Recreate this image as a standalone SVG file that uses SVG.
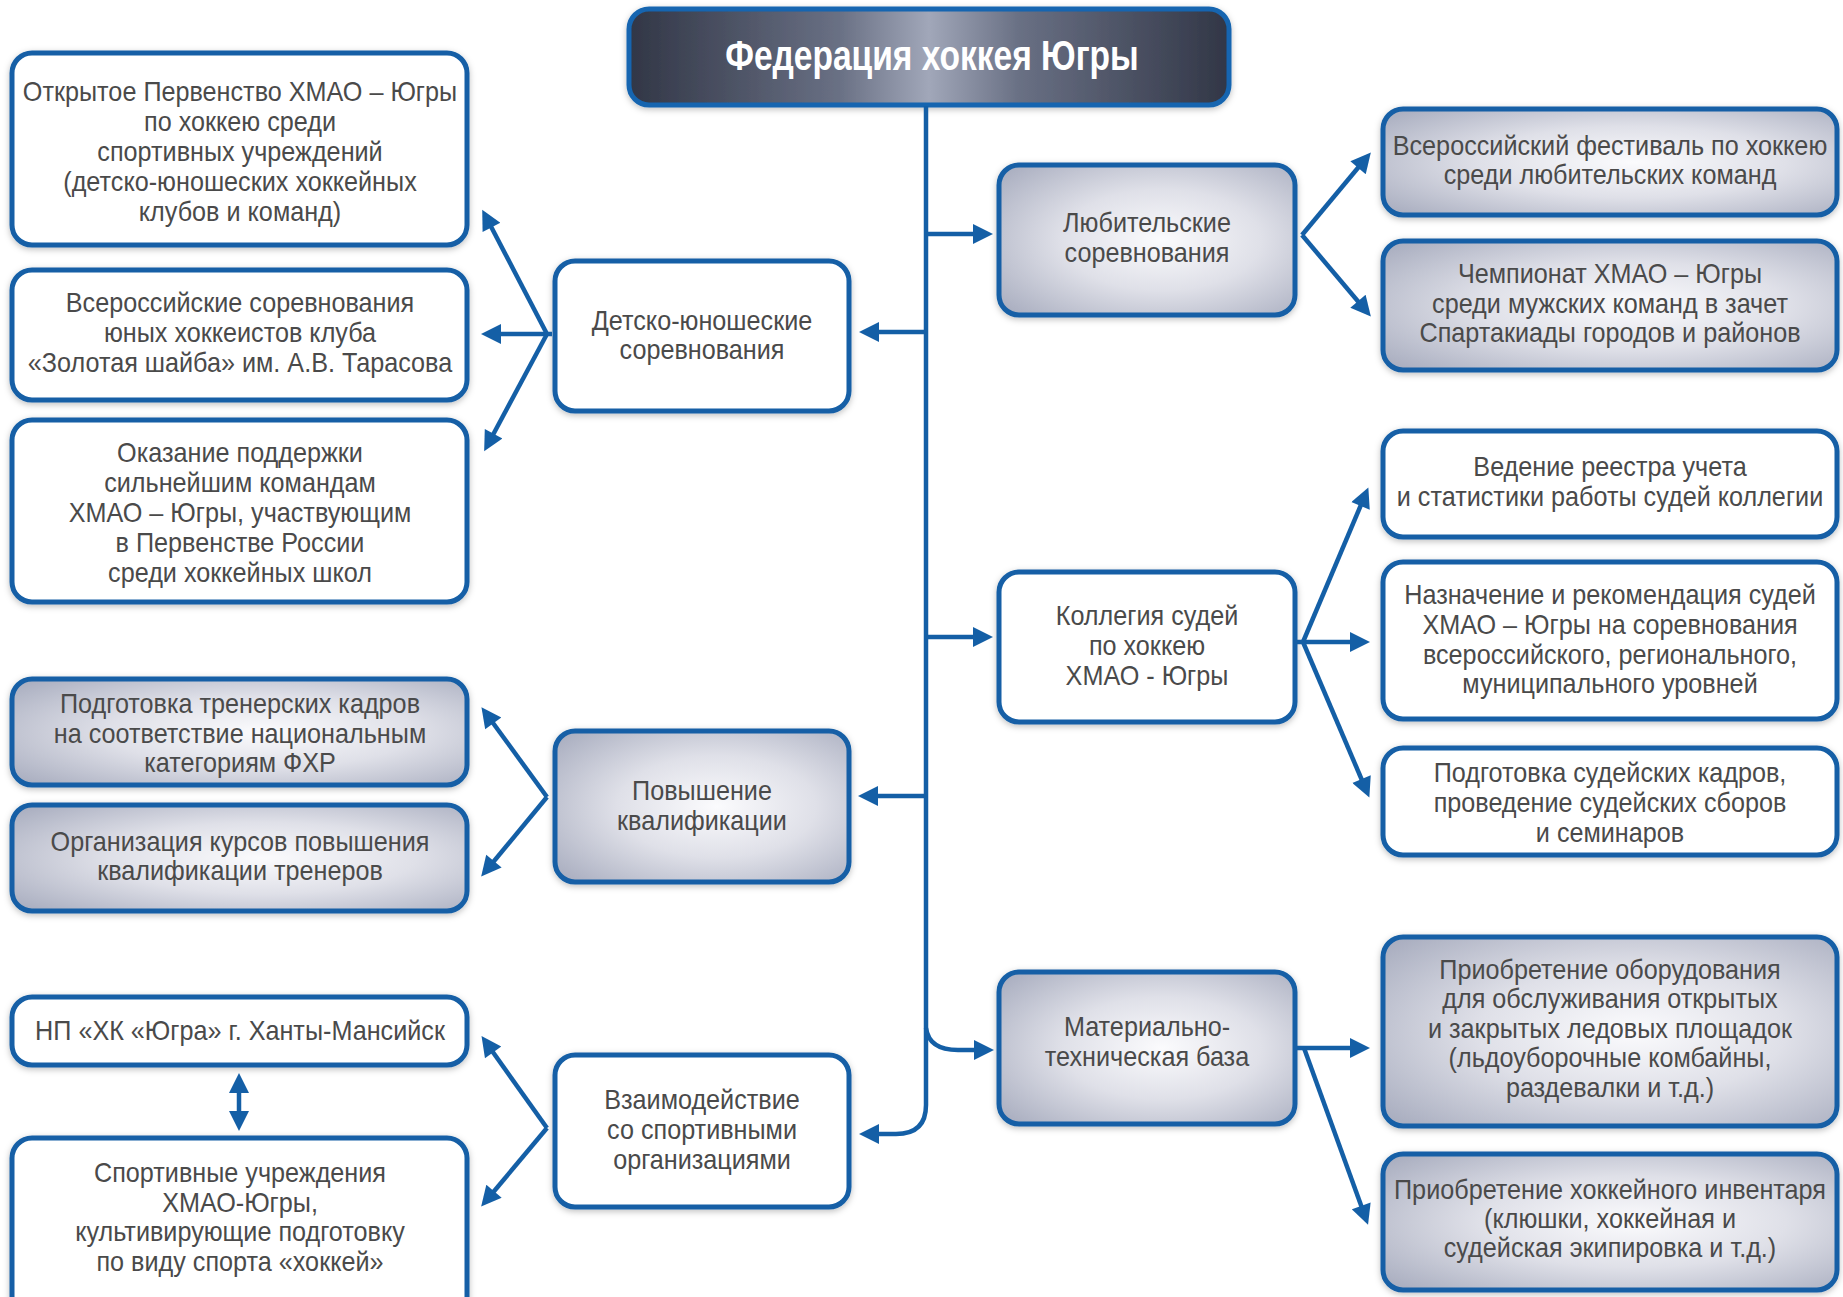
<svg xmlns="http://www.w3.org/2000/svg" width="1843" height="1297" viewBox="0 0 1843 1297">
<style>
.box{stroke:#145fa6;stroke-width:5;filter:url(#sh)}
.w{fill:#ffffff}
.g{fill:url(#gg)}
.t{font-family:"Liberation Sans",Arial,sans-serif;font-size:28px;fill:#4a4a4a;text-anchor:middle}
.ttl{font-family:"Liberation Sans",Arial,sans-serif;font-size:43px;font-weight:bold;fill:#ffffff;text-anchor:middle}
.c{fill:none;stroke:#145fa6;stroke-width:4.5;marker-end:url(#ah)}
</style>
<defs>
<filter id="sh" x="-10%" y="-10%" width="120%" height="130%">
<feDropShadow dx="0" dy="2" stdDeviation="3" flood-color="#000" flood-opacity="0.25"/>
</filter>
<radialGradient id="gg" cx="0.55" cy="0.5" r="0.75">
<stop offset="0" stop-color="#fbfbfd"/>
<stop offset="0.45" stop-color="#dfe0e8"/>
<stop offset="1" stop-color="#a3a8bb"/>
</radialGradient>
<linearGradient id="tg" x1="0" y1="0" x2="1" y2="0">
<stop offset="0" stop-color="#313646"/>
<stop offset="0.35" stop-color="#697084"/>
<stop offset="0.5" stop-color="#a1a7b9"/>
<stop offset="0.65" stop-color="#697084"/>
<stop offset="1" stop-color="#313646"/>
</linearGradient>
<marker id="ah" viewBox="0 0 10 10" refX="7" refY="5" markerUnits="userSpaceOnUse" markerWidth="23" markerHeight="20" orient="auto-start-reverse">
<path d="M0,0 L10,5 L0,10 Z" fill="#145fa6"/>
</marker>
</defs>
<rect x="0" y="0" width="1843" height="1297" fill="#ffffff"/>

<g id="title">
<rect x="629" y="9" width="600" height="96" rx="20" fill="url(#tg)" stroke="#1565b0" stroke-width="5" filter="url(#sh)"/>
<text class="ttl" transform="translate(932 0) scale(0.78 1)" x="0" y="70">Федерация хоккея Югры</text>
</g>

<g id="n1"><rect class="box w" x="12" y="53" width="455" height="192" rx="20"/>
<text class="t" transform="translate(240 0) scale(0.9 1)"><tspan x="0" y="101">Открытое Первенство ХМАО – Югры</tspan><tspan x="0" y="131">по хоккею среди</tspan><tspan x="0" y="161">спортивных учреждений</tspan><tspan x="0" y="191">(детско-юношеских хоккейных</tspan><tspan x="0" y="221">клубов и команд)</tspan></text></g>

<g id="n2"><rect class="box w" x="12" y="270" width="455" height="130" rx="20"/>
<text class="t" transform="translate(240 0) scale(0.9 1)"><tspan x="0" y="312">Всероссийские соревнования</tspan><tspan x="0" y="342">юных хоккеистов клуба</tspan><tspan x="0" y="372">«Золотая шайба» им. А.В. Тарасова</tspan></text></g>

<g id="n3"><rect class="box w" x="12" y="420" width="455" height="182" rx="20"/>
<text class="t" transform="translate(240 0) scale(0.9 1)"><tspan x="0" y="462">Оказание поддержки</tspan><tspan x="0" y="492">сильнейшим командам</tspan><tspan x="0" y="522">ХМАО – Югры, участвующим</tspan><tspan x="0" y="552">в Первенстве России</tspan><tspan x="0" y="582">среди хоккейных школ</tspan></text></g>

<g id="n4"><rect class="box g" x="12" y="679" width="455" height="106" rx="20"/>
<text class="t" transform="translate(240 0) scale(0.9 1)"><tspan x="0" y="713">Подготовка тренерских кадров</tspan><tspan x="0" y="743">на соответствие национальным</tspan><tspan x="0" y="772">категориям ФХР</tspan></text></g>

<g id="n5"><rect class="box g" x="12" y="805" width="455" height="106" rx="20"/>
<text class="t" transform="translate(240 0) scale(0.9 1)"><tspan x="0" y="851">Организация курсов повышения</tspan><tspan x="0" y="880">квалификации тренеров</tspan></text></g>

<g id="n6"><rect class="box w" x="12" y="997" width="455" height="68" rx="20"/>
<text class="t" transform="translate(240 0) scale(0.9 1)"><tspan x="0" y="1040">НП «ХК «Югра» г. Ханты-Мансийск</tspan></text></g>

<g id="n7"><rect class="box w" x="12" y="1138" width="455" height="180" rx="20"/>
<text class="t" transform="translate(240 0) scale(0.9 1)"><tspan x="0" y="1182">Спортивные учреждения</tspan><tspan x="0" y="1212">ХМАО-Югры,</tspan><tspan x="0" y="1241">культивирующие подготовку</tspan><tspan x="0" y="1271">по виду спорта «хоккей»</tspan></text></g>

<g id="n8"><rect class="box w" x="555" y="261" width="294" height="150" rx="20"/>
<text class="t" transform="translate(702 0) scale(0.9 1)"><tspan x="0" y="330">Детско-юношеские</tspan><tspan x="0" y="359">соревнования</tspan></text></g>

<g id="n9"><rect class="box g" x="555" y="731" width="294" height="151" rx="20"/>
<text class="t" transform="translate(702 0) scale(0.9 1)"><tspan x="0" y="800">Повышение</tspan><tspan x="0" y="830">квалификации</tspan></text></g>

<g id="n10"><rect class="box w" x="555" y="1055" width="294" height="152" rx="20"/>
<text class="t" transform="translate(702 0) scale(0.9 1)"><tspan x="0" y="1109">Взаимодействие</tspan><tspan x="0" y="1139">со спортивными</tspan><tspan x="0" y="1169">организациями</tspan></text></g>

<g id="n11"><rect class="box g" x="999" y="165" width="296" height="150" rx="20"/>
<text class="t" transform="translate(1147 0) scale(0.9 1)"><tspan x="0" y="232">Любительские</tspan><tspan x="0" y="262">соревнования</tspan></text></g>

<g id="n19"><rect class="box w" x="999" y="572" width="296" height="150" rx="20"/>
<text class="t" transform="translate(1147 0) scale(0.9 1)"><tspan x="0" y="625">Коллегия судей</tspan><tspan x="0" y="655">по хоккею</tspan><tspan x="0" y="685">ХМАО - Югры</tspan></text></g>

<g id="n20"><rect class="box g" x="999" y="972" width="296" height="152" rx="20"/>
<text class="t" transform="translate(1147 0) scale(0.9 1)"><tspan x="0" y="1036">Материально-</tspan><tspan x="0" y="1066">техническая база</tspan></text></g>

<g id="n12"><rect class="box g" x="1383" y="109" width="454" height="106" rx="20"/>
<text class="t" transform="translate(1610 0) scale(0.9 1)"><tspan x="0" y="155">Всероссийский фестиваль по хоккею</tspan><tspan x="0" y="184">среди любительских команд</tspan></text></g>

<g id="n13"><rect class="box g" x="1383" y="241" width="454" height="129" rx="20"/>
<text class="t" transform="translate(1610 0) scale(0.9 1)"><tspan x="0" y="283">Чемпионат ХМАО – Югры</tspan><tspan x="0" y="313">среди мужских команд в зачет</tspan><tspan x="0" y="342">Спартакиады городов и районов</tspan></text></g>

<g id="n14"><rect class="box w" x="1383" y="431" width="454" height="106" rx="20"/>
<text class="t" transform="translate(1610 0) scale(0.9 1)"><tspan x="0" y="476">Ведение реестра учета</tspan><tspan x="0" y="506">и статистики работы судей коллегии</tspan></text></g>

<g id="n15"><rect class="box w" x="1383" y="562" width="454" height="157" rx="20"/>
<text class="t" transform="translate(1610 0) scale(0.9 1)"><tspan x="0" y="604">Назначение и рекомендация судей</tspan><tspan x="0" y="634">ХМАО – Югры на соревнования</tspan><tspan x="0" y="664">всероссийского, регионального,</tspan><tspan x="0" y="693">муниципального уровней</tspan></text></g>

<g id="n16"><rect class="box w" x="1383" y="748" width="454" height="107" rx="20"/>
<text class="t" transform="translate(1610 0) scale(0.9 1)"><tspan x="0" y="782">Подготовка судейских кадров,</tspan><tspan x="0" y="812">проведение судейских сборов</tspan><tspan x="0" y="842">и семинаров</tspan></text></g>

<g id="n17"><rect class="box g" x="1383" y="937" width="454" height="189" rx="20"/>
<text class="t" transform="translate(1610 0) scale(0.9 1)"><tspan x="0" y="979">Приобретение оборудования</tspan><tspan x="0" y="1008">для обслуживания открытых</tspan><tspan x="0" y="1038">и закрытых ледовых площадок</tspan><tspan x="0" y="1067">(льдоуборочные комбайны,</tspan><tspan x="0" y="1097">раздевалки и т.д.)</tspan></text></g>

<g id="n18"><rect class="box g" x="1383" y="1154" width="454" height="136" rx="20"/>
<text class="t" transform="translate(1610 0) scale(0.9 1)"><tspan x="0" y="1199">Приобретение хоккейного инвентаря</tspan><tspan x="0" y="1228">(клюшки, хоккейная и</tspan><tspan x="0" y="1257">судейская экипировка и т.д.)</tspan></text></g>

<g id="connectors">
<path class="c" d="M926,106 V1105 Q926,1134 896,1134 H865"/>
<path class="c" d="M926,1028 Q929,1050 958,1050 H988"/>
<path class="c" d="M926,234 H987"/>
<path class="c" d="M926,332 H865"/>
<path class="c" d="M926,637 H987"/>
<path class="c" d="M926,796 H864"/>
<path class="c" d="M547,334 L485,215"/>
<path class="c" d="M552,334 H487"/>
<path class="c" d="M547,334 L487,446"/>
<path class="c" d="M547,797 L485,712"/>
<path class="c" d="M547,797 L485,872"/>
<path class="c" d="M547,1128 L485,1041"/>
<path class="c" d="M547,1128 L485,1202"/>
<path class="c" d="M239,1079 V1125" marker-start="url(#ah)"/>
<path class="c" d="M1302,235 L1367,157"/>
<path class="c" d="M1302,235 L1367,312"/>
<path class="c" d="M1303,642 L1366,493"/>
<path class="c" d="M1297,642 H1364"/>
<path class="c" d="M1303,642 L1367,792"/>
<path class="c" d="M1297,1048 H1364"/>
<path class="c" d="M1304,1048 L1366,1219"/>
</g>
</svg>
